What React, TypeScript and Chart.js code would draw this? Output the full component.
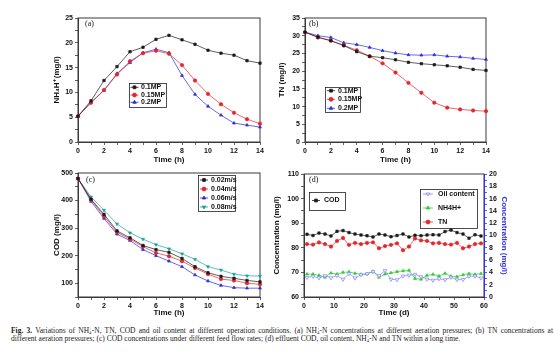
import React, { useEffect, useRef } from 'react';
import { Chart, registerables } from 'chart.js';
import { drawPoint } from 'chart.js/helpers';

Chart.register(...registerables);

const SANS = "'Liberation Sans', Arial, 'DejaVu Sans', sans-serif";
const SERIF = "'Liberation Serif', 'DejaVu Serif', serif";
const AXIS = '#3a3a3a';
const BLACK = '#1a1a1a';
const RED = '#e3262b';
const BLUE = '#2b2bdc';
const TEAL = '#17a2a0';
const GREEN = '#2ecc2e';
const OIL = '#8080ff';
const AXBLUE = '#3030e8';

// ---------- data ----------
const hours = [0, 1, 2, 3, 4, 5, 6, 7, 8, 9, 10, 11, 12, 13, 14];

// (a) NH4+ (mg/l)
const nh4_01 = [5.2, 8.3, 12.4, 15.2, 18.2, 19.1, 20.7, 21.5, 20.6, 19.7, 18.5, 17.9, 17.5, 16.4, 15.9];
const nh4_015 = [5.2, 7.9, 10.5, 13.6, 16.3, 17.9, 18.4, 17.8, 15.5, 12.4, 9.7, 7.6, 5.9, 4.6, 3.7];
const nh4_02 = [5.2, 8.0, 10.4, 13.8, 16.0, 18.0, 18.7, 18.0, 13.4, 9.6, 7.2, 5.4, 3.8, 3.4, 3.0];

// (b) TN (mg/l)
const tn_01 = [31.0, 29.6, 28.6, 27.2, 25.5, 24.2, 23.8, 23.2, 22.5, 22.1, 21.8, 21.5, 21.1, 20.5, 20.2];
const tn_015 = [31.0, 29.5, 28.6, 27.3, 25.9, 24.2, 22.2, 19.6, 16.7, 13.9, 11.1, 9.7, 9.2, 8.9, 8.7];
const tn_02 = [31.0, 30.0, 29.5, 28.0, 27.5, 26.7, 25.8, 25.1, 24.6, 24.5, 24.6, 24.2, 24.0, 23.6, 23.3];

// (c) COD (mg/l)
const cod_002 = [480, 405, 350, 290, 265, 237, 222, 212, 190, 160, 138, 125, 118, 110, 105];
const cod_004 = [480, 403, 343, 285, 260, 233, 210, 198, 180, 155, 133, 115, 110, 100, 96];
const cod_006 = [480, 397, 335, 278, 255, 222, 200, 180, 160, 130, 108, 92, 84, 82, 82];
const cod_008 = [480, 413, 365, 315, 283, 260, 240, 225, 207, 187, 160, 148, 133, 127, 126];

// (d) long-term effluent
const days = [1, 3, 5, 7, 9, 11, 13, 15, 17, 19, 21, 23, 25, 27, 29, 31, 33, 35, 37, 39, 41, 43, 45, 47, 49, 51, 53, 55, 57, 59];
const dCOD = [85.5, 85.0, 86.0, 85.6, 84.8, 86.7, 87.0, 86.2, 85.6, 85.2, 84.9, 84.4, 85.6, 85.2, 84.5, 85.0, 85.6, 84.4, 85.1, 84.9, 85.2, 85.3, 85.2, 86.6, 87.2, 86.2, 85.6, 83.9, 85.3, 84.8];
const dTN = [8.6, 8.52, 8.88, 8.6, 8.2, 9.12, 9.6, 8.48, 8.8, 8.6, 8.8, 8.88, 7.92, 8.28, 8.48, 8.72, 7.6, 8.2, 9.52, 9.2, 9.12, 8.72, 8.8, 8.6, 8.52, 8.8, 7.92, 8.2, 8.6, 8.72];
const dNH4 = [3.72, 3.72, 3.52, 3.2, 3.88, 3.72, 4.0, 4.08, 3.84, 3.68, 3.76, 4.16, 3.2, 3.72, 3.92, 4.12, 4.24, 4.32, 3.0, 2.88, 3.52, 3.68, 3.4, 3.84, 3.36, 3.32, 3.6, 3.8, 3.68, 3.8];
const dOil = [3.2, 3.36, 3.08, 3.44, 3.12, 3.48, 2.88, 3.8, 3.08, 3.6, 3.76, 4.12, 3.44, 4.28, 2.88, 2.8, 3.4, 3.52, 3.68, 3.28, 2.92, 2.72, 2.96, 2.8, 3.2, 2.8, 2.84, 3.36, 3.4, 3.08];

// ---------- helpers ----------
const pts = (xs: number[], ys: number[]) => xs.map((x, i) => ({ x, y: ys[i] }));

function ds(label: string, xs: number[], ys: number[], color: string, style: string, extra: any = {}) {
  return {
    label,
    data: pts(xs, ys),
    borderColor: color,
    backgroundColor: color,
    borderWidth: 0.7,
    pointStyle: style,
    pointRadius: 1.7,
    pointBorderWidth: 0.7,
    pointBackgroundColor: color,
    pointBorderColor: color,
    pointRotation: 0,
    tension: 0,
    clip: false,
    ...extra,
  };
}

type AxisOpt = {
  min: number; max: number; step: number; labelEvery: number; size: number;
  title?: string; titleColor?: string; titlePad?: any; position?: string; lineColor?: string;
};

function axisCfg(o: AxisOpt) {
  return {
    type: 'linear',
    position: o.position,
    min: o.min,
    max: o.max,
    afterBuildTicks: (scale: any) => {
      const t: any[] = [];
      for (let v = o.min; v <= o.max + 1e-9; v += o.step) t.push({ value: Math.round(v * 1000) / 1000 });
      scale.ticks = t;
    },
    afterFit: (scale: any) => {
      if (scale.isHorizontal()) scale.height = o.size; else scale.width = o.size;
    },
    ticks: {
      autoSkip: false, maxRotation: 0, minRotation: 0, padding: 2, color: '#111',
      font: { family: SANS, size: 7, weight: 'bold' },
      callback: (v: number) => {
        const r = v / o.labelEvery;
        return Math.abs(r - Math.round(r)) < 1e-6 ? String(v) : '';
      },
    },
    grid: { display: true, drawOnChartArea: false, drawTicks: true, tickLength: 3, color: o.lineColor || AXIS, lineWidth: 0.8 },
    border: { display: true, color: o.lineColor || AXIS, width: 1 },
    title: o.title
      ? { display: true, text: o.title, color: o.titleColor || '#111', font: { family: SANS, size: 8, weight: 'bold' }, padding: o.titlePad ?? 0 }
      : { display: false },
  };
}

type LegendBox = { x: number; y: number; w: number; h: number; rows: number[]; items: number[]; lx0: number; lx1: number; tx: number };
type Decor = { tag: string; tagDx: number; tagDy: number; boxes: LegendBox[] };

function decorPlugin(spec: Decor) {
  return {
    id: 'decor',
    beforeDraw(chart: any) {
      const { ctx, chartArea: ca } = chart;
      ctx.save();
      ctx.strokeStyle = AXIS;
      ctx.lineWidth = 1;
      ctx.strokeRect(ca.left, ca.top, ca.right - ca.left, ca.bottom - ca.top);
      ctx.restore();
    },
    afterDraw(chart: any) {
      const { ctx, chartArea: ca } = chart;
      ctx.save();
      ctx.font = `8px ${SERIF}`;
      ctx.fillStyle = '#111';
      ctx.textBaseline = 'middle';
      ctx.textAlign = 'left';
      ctx.fillText(spec.tag, ca.left + spec.tagDx, ca.top + spec.tagDy);
      for (const b of spec.boxes) {
        ctx.strokeStyle = '#222';
        ctx.lineWidth = 0.8;
        ctx.strokeRect(b.x + 0.5, b.y + 0.5, b.w, b.h);
        b.items.forEach((idx, k) => {
          const d = chart.data.datasets[idx];
          const cy = b.y + b.rows[k];
          ctx.strokeStyle = d.borderColor;
          ctx.lineWidth = 0.8;
          ctx.beginPath();
          ctx.moveTo(b.x + b.lx0, cy);
          ctx.lineTo(b.x + b.lx1, cy);
          ctx.stroke();
          ctx.fillStyle = d.pointBackgroundColor;
          ctx.strokeStyle = d.pointBorderColor;
          drawPoint(ctx, { pointStyle: d.pointStyle, rotation: d.pointRotation || 0, radius: 2, borderWidth: 0.8 } as any, b.x + (b.lx0 + b.lx1) / 2, cy);
          ctx.fillStyle = '#111';
          ctx.font = `bold 7px ${SANS}`;
          ctx.textBaseline = 'middle';
          ctx.fillText(d.label, b.x + b.tx, cy);
        });
      }
      ctx.restore();
    },
  };
}

type PanelProps = { left: number; top: number; width: number; height: number; build: () => any };

function Panel({ left, top, width, height, build }: PanelProps) {
  const ref = useRef<HTMLCanvasElement | null>(null);
  useEffect(() => {
    if (!ref.current) return;
    const chart = new Chart(ref.current, build());
    return () => chart.destroy();
  }, []);
  return (
    <canvas
      ref={ref}
      width={width}
      height={height}
      style={{ position: 'absolute', left, top, width, height }}
    />
  );
}

function baseOptions(padding: any, scales: any) {
  return {
    animation: false,
    responsive: false,
    maintainAspectRatio: false,
    events: [],
    layout: { padding },
    plugins: { legend: { display: false }, tooltip: { enabled: false } },
    scales,
  };
}

const buildA = () => ({
  type: 'line',
  data: {
    datasets: [
      ds('0.1MP', hours, nh4_01, BLACK, 'rect'),
      ds('0.15MP', hours, nh4_015, RED, 'circle'),
      ds('0.2MP', hours, nh4_02, BLUE, 'triangle'),
    ],
  },
  options: baseOptions({ left: 52, right: 17, top: 18, bottom: 5 }, {
    x: axisCfg({ min: 0, max: 14, step: 1, labelEvery: 2, size: 23, title: 'Time (h)' }),
    y: axisCfg({ min: 0, max: 25, step: 2.5, labelEvery: 5, size: 26, title: 'NH₄H⁺(mg/l)' }),
  }),
  plugins: [decorPlugin({
    tag: '(a)', tagDx: 7, tagDy: 6,
    boxes: [{ x: 129, y: 83, w: 37, h: 24, rows: [4.3, 12, 19.3], items: [0, 1, 2], lx0: 1.5, lx1: 9.5, tx: 12 }],
  })],
});

const buildB = () => ({
  type: 'line',
  data: {
    datasets: [
      ds('0.1MP', hours, tn_01, BLACK, 'rect'),
      ds('0.15MP', hours, tn_015, RED, 'circle'),
      ds('0.2MP', hours, tn_02, BLUE, 'triangle'),
    ],
  },
  options: baseOptions({ left: 0, right: 68, top: 18, bottom: 5 }, {
    x: axisCfg({ min: 0, max: 14, step: 1, labelEvery: 2, size: 23, title: 'Time (h)' }),
    y: axisCfg({ min: 0, max: 35, step: 2.5, labelEvery: 5, size: 28, title: 'TN (mg/l)' }),
  }),
  plugins: [decorPlugin({
    tag: '(b)', tagDx: 4, tagDy: 6,
    boxes: [{ x: 48, y: 87, w: 35, h: 25, rows: [3.7, 12.3, 21.3], items: [0, 1, 2], lx0: 2, lx1: 10, tx: 13 }],
  })],
});

const buildC = () => ({
  type: 'line',
  data: {
    datasets: [
      ds('0.02m/s', hours, cod_002, BLACK, 'rect'),
      ds('0.04m/s', hours, cod_004, RED, 'circle'),
      ds('0.06m/s', hours, cod_006, BLUE, 'triangle'),
      ds('0.08m/s', hours, cod_008, TEAL, 'triangle', { pointRotation: 180 }),
    ],
  },
  options: baseOptions({ left: 52, right: 17, top: 8, bottom: 2 }, {
    x: axisCfg({ min: 0, max: 14, step: 1, labelEvery: 2, size: 21, title: 'Time (h)' }),
    y: axisCfg({ min: 50, max: 500, step: 50, labelEvery: 100, size: 26, title: 'COD (mg/l)' }),
  }),
  plugins: [decorPlugin({
    tag: '(c)', tagDx: 8, tagDy: 7,
    boxes: [{ x: 198, y: 10, w: 37, h: 36, rows: [5, 14, 23, 32], items: [0, 1, 2, 3], lx0: 2, lx1: 10, tx: 13 }],
  })],
});

const buildD = () => ({
  type: 'line',
  data: {
    datasets: [
      ds('COD', days, dCOD, BLACK, 'rect', { yAxisID: 'y' }),
      ds('Oil content', days, dOil, OIL, 'triangle', { yAxisID: 'y1', pointRotation: 180, pointBackgroundColor: '#ffffff', pointRadius: 2.1 }),
      ds('NH4H+', days, dNH4, GREEN, 'triangle', { yAxisID: 'y1' }),
      ds('TN', days, dTN, RED, 'circle', { yAxisID: 'y1' }),
    ],
  },
  options: baseOptions({ left: 2, right: 45, top: 9, bottom: 2 }, {
    x: axisCfg({ min: 0, max: 60, step: 5, labelEvery: 10, size: 21, title: 'Time (d)' }),
    y: axisCfg({ min: 60, max: 110, step: 5, labelEvery: 10, size: 32, title: 'Concentration (mg/l)' }),
    y1: axisCfg({ min: 0, max: 20, step: 1, labelEvery: 2, size: 25, position: 'right', title: 'Concentration (mg/l)', titleColor: AXBLUE, lineColor: AXBLUE }),
  }),
  plugins: [decorPlugin({
    tag: '(d)', tagDx: 5, tagDy: 6,
    boxes: [
      { x: 39, y: 27, w: 36, h: 18, rows: [8.5], items: [0], lx0: 3, lx1: 11, tx: 15 },
      { x: 150, y: 24, w: 57, h: 39, rows: [5, 19, 33], items: [1, 2, 3], lx0: 3, lx1: 13, tx: 18 },
    ],
  })],
});

const NH4 = () => (
  <>
    NH
    <span style={{ display: 'inline-block', fontSize: '0.62em', lineHeight: '0.85', verticalAlign: '-0.25em', textAlign: 'left' }}>
      +<br />4
    </span>
  </>
);

export default function App() {
  const lineStyle: React.CSSProperties = { height: 8, lineHeight: '8px', whiteSpace: 'nowrap' };
  return (
    <div style={{ position: 'absolute', left: 0, top: 0, width: 554, height: 356, background: '#fff', overflow: 'hidden' }}>
      <Panel left={0} top={0} width={277} height={170} build={buildA} />
      <Panel left={277} top={0} width={277} height={170} build={buildB} />
      <Panel left={0} top={165} width={277} height={155} build={buildC} />
      <Panel left={270} top={165} width={284} height={155} build={buildD} />
      <div style={{ position: 'absolute', left: 11, top: 327, width: 542, fontFamily: SERIF, fontSize: 7.5, color: '#222' }}>
        <div style={{ ...lineStyle, textAlign: 'justify', textAlignLast: 'justify' as any }}>
          <b>Fig. 3.</b> Variations of <NH4 />-N, TN, COD and oil content at different operation conditions. (a) <NH4 />-N concentrations at different aeration pressures; (b) TN concentrations at
        </div>
        <div style={lineStyle}>
          different aeration pressures; (c) COD concentrations under different feed flow rates; (d) effluent COD, oil content, <NH4 />-N and TN within a long time.
        </div>
      </div>
    </div>
  );
}
